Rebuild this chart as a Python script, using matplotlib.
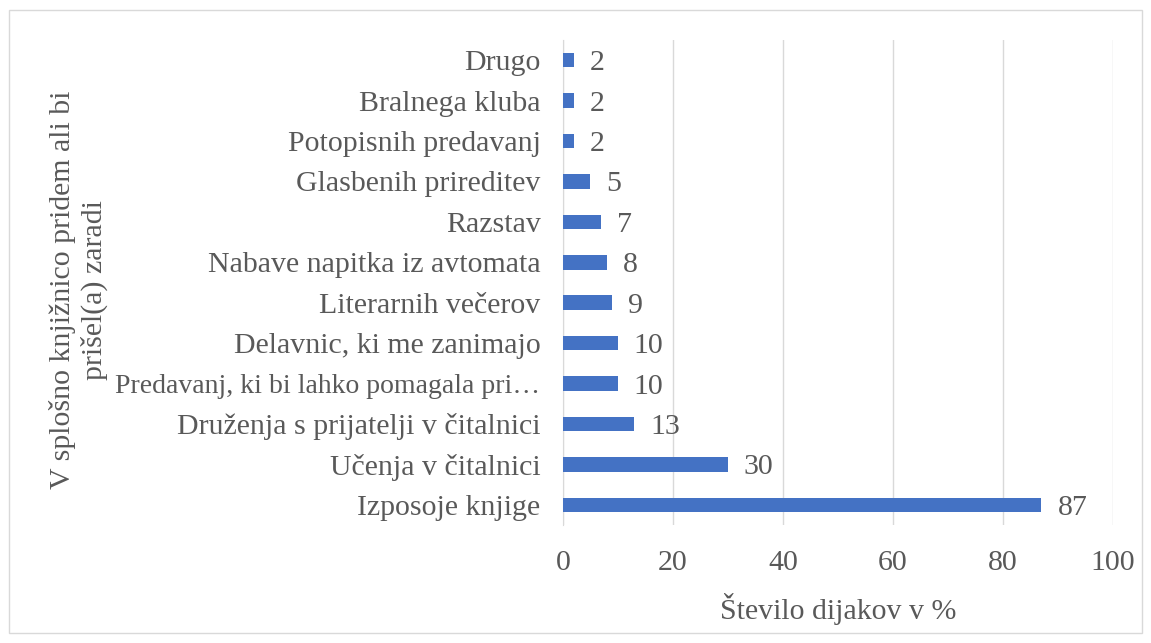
import matplotlib.pyplot as plt

plt.rcParams['font.family'] = ['Liberation Serif', 'DejaVu Serif']

categories = ['Izposoje knjige', 'Učenja v čitalnici', 'Druženja s prijatelji v čitalnici',
              'Predavanj, ki bi lahko pomagala pri…', 'Delavnic, ki me zanimajo',
              'Literarnih večerov', 'Nabave napitka iz avtomata', 'Razstav',
              'Glasbenih prireditev', 'Potopisnih predavanj', 'Bralnega kluba', 'Drugo']
values = [87, 30, 13, 10, 10, 9, 8, 7, 5, 2, 2, 2]
xticks = [0, 20, 40, 60, 80, 100]

gray = '#595959'
fs = 21.5
fig = plt.figure(figsize=(11.51, 6.43), dpi=100)
ax = fig.add_axes([0.489, 0.1835, 0.478, 0.7545])

pos = range(len(categories))
ax.barh(pos, values, height=0.36, color='#4472C4', zorder=3)
for p, v in zip(pos, values):
    ax.annotate(str(v), (v, p), xytext=(11.5, 0), textcoords='offset points',
                va='center_baseline', ha='left', fontsize=fs, color=gray)

ax.set_xlim(0, 100)
ax.set_ylim(-0.5, len(categories) - 0.5)
ax.set_xticks(xticks)
ax.set_yticks(list(pos))
ax.set_yticklabels(categories)
ax.tick_params(axis='both', length=0, labelsize=fs, colors=gray)
ax.tick_params(axis='x', pad=18)
ax.tick_params(axis='y', pad=16)
# the truncated label is drawn a bit tighter in the original
for lbl in ax.get_yticklabels():
    if lbl.get_text().endswith('…'):
        lbl.set_fontsize(20)
ax.grid(axis='x', color='#D9D9D9', linewidth=1, zorder=0)
for s in ['top', 'right', 'bottom']:
    ax.spines[s].set_visible(False)
ax.spines['left'].set_color('#D9D9D9')

ax.set_xlabel('Število dijakov v %', fontsize=fs, color=gray, labelpad=12)
fig.text(0.068, 0.549, 'V splošno knjižnico pridem ali bi\nprišel(a) zaradi', rotation=90,
         ha='center', va='center', fontsize=fs, color=gray, multialignment='center',
         linespacing=1.2)

border = plt.Rectangle((0.008, 0.016), 0.984, 0.968, transform=fig.transFigure,
                       fill=False, edgecolor='#D9D9D9', linewidth=1)
fig.patches.append(border)

fig.savefig('out.png', dpi=100)
